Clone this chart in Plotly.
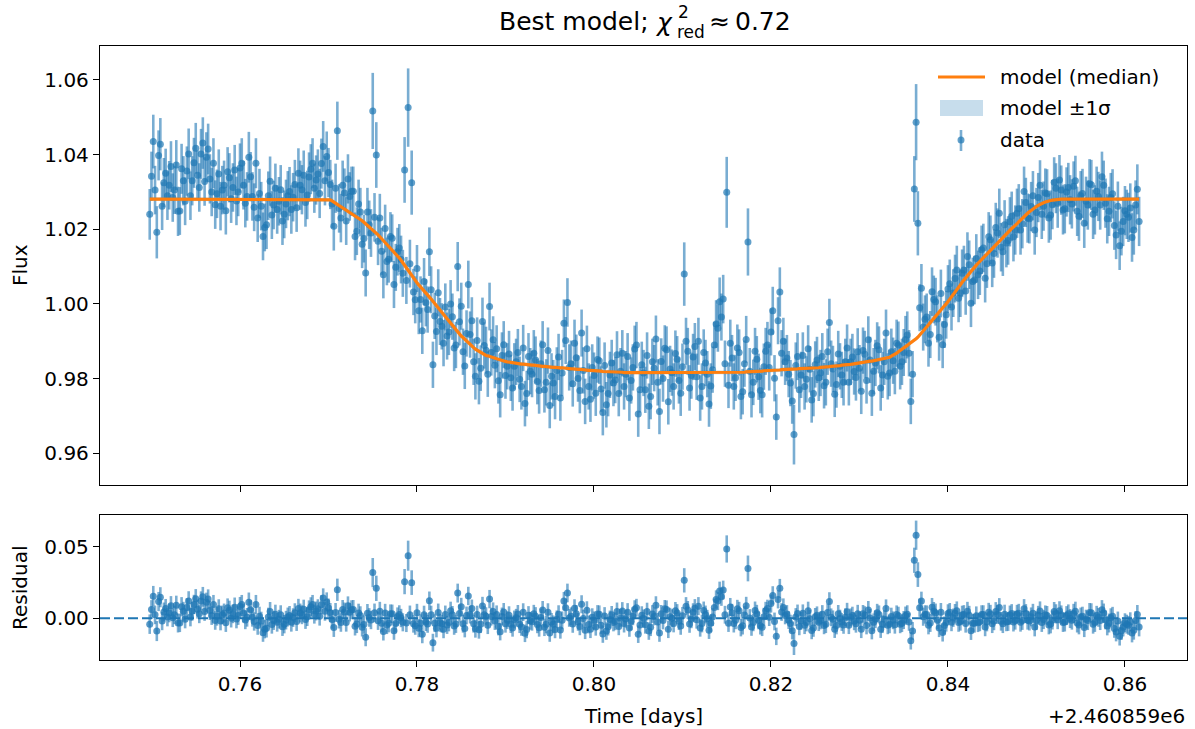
import plotly.graph_objects as go

# ---------------- data (time offset from 2460859 d) ----------------
# cadence set A
time_offset = [
0.7498,0.7502,0.7506,0.7510,0.7514,0.7518,0.7522,0.7526,0.7530,0.7534,
0.7538,0.7542,0.7546,0.7550,0.7554,0.7558,0.7562,0.7566,0.7570,0.7574,
0.7578,0.7582,0.7586,0.7590,0.7594,0.7598,0.7602,0.7606,0.7610,0.7614,
0.7618,0.7622,0.7626,0.7630,0.7634,0.7638,0.7642,0.7646,0.7650,0.7654,
0.7658,0.7662,0.7666,0.7670,0.7674,0.7678,0.7682,0.7686,0.7690,0.7694,
0.7698,0.7702,0.7706,0.7710,0.7714,0.7718,0.7722,0.7726,0.7730,0.7734,
0.7738,0.7742,0.7746,0.7750,0.7754,0.7758,0.7762,0.7766,0.7770,0.7774,
0.7778,0.7782,0.7786,0.7790,0.7794,0.7798,0.7802,0.7806,0.7810,0.7814,
0.7818,0.7822,0.7826,0.7830,0.7834,0.7838,0.7842,0.7846,0.7850,0.7854,
0.7858,0.7862,0.7866,0.7870,0.7874,0.7878,0.7882,0.7886,0.7890,0.7894,
0.7898,0.7902,0.7906,0.7910,0.7914,0.7918,0.7922,0.7926,0.7930,0.7934,
0.7938,0.7942,0.7946,0.7950,0.7954,0.7958,0.7962,0.7966,0.7970,0.7974,
0.7978,0.7982,0.7986,0.7990,0.7994,0.7998,0.8002,0.8006,0.8010,0.8014,
0.8018,0.8022,0.8026,0.8030,0.8034,0.8038,0.8042,0.8046,0.8050,0.8054,
0.8058,0.8062,0.8066,0.8070,0.8074,0.8078,0.8082,0.8086,0.8090,0.8094,
0.8098,0.8102,0.8106,0.8110,0.8114,0.8118,0.8122,0.8126,0.8130,0.8134,
0.8138,0.8142,0.8146,0.8150,0.8154,0.8158,0.8162,0.8166,0.8170,0.8174,
0.8178,0.8182,0.8186,0.8190,0.8194,0.8198,0.8202,0.8206,0.8210,0.8214,
0.8218,0.8222,0.8226,0.8230,0.8234,0.8238,0.8242,0.8246,0.8250,0.8254,
0.8258,0.8262,0.8266,0.8270,0.8274,0.8278,0.8282,0.8286,0.8290,0.8294,
0.8298,0.8302,0.8306,0.8310,0.8314,0.8318,0.8322,0.8326,0.8330,0.8334,
0.8338,0.8342,0.8346,0.8350,0.8354,0.8358,0.8362,0.8364,0.8366,0.8370,
0.8374,0.8378,0.8382,0.8386,0.8390,0.8394,0.8398,0.8402,0.8406,0.8410,
0.8414,0.8418,0.8422,0.8426,0.8430,0.8434,0.8438,0.8442,0.8446,0.8450,
0.8454,0.8458,0.8462,0.8466,0.8470,0.8474,0.8478,0.8482,0.8486,0.8490,
0.8494,0.8498,0.8502,0.8506,0.8510,0.8514,0.8518,0.8522,0.8526,0.8530,
0.8534,0.8538,0.8542,0.8546,0.8550,0.8554,0.8558,0.8562,0.8566,0.8570,
0.8574,0.8578,0.8582,0.8586,0.8590,0.8594,0.8598,0.8602,0.8606,0.8610,
0.8614,0.8616]

flux = [
1.0240,1.0435,1.0192,1.0428,1.0325,1.0290,1.0368,1.0305,1.0248,1.0362,
1.0275,1.0402,1.0330,1.0417,1.0312,1.0431,1.0393,1.0335,1.0377,1.0295,
1.0262,1.0318,1.0354,1.0282,1.0359,1.0300,1.0377,1.0270,1.0393,1.0288,
1.0377,1.0296,1.0181,1.0212,1.0329,1.0265,1.0253,1.0306,1.0240,1.0290,
1.0253,1.0320,1.0350,1.0306,1.0272,1.0340,1.0377,1.0332,1.0296,1.0422,
1.0395,1.0320,1.0208,1.0464,1.0230,1.0297,1.0335,1.0302,1.0181,1.0268,
1.0160,1.0083,1.0212,1.0517,1.0399,1.0230,1.0078,1.0114,1.0181,1.0052,
1.0140,1.0119,1.0359,1.0526,1.0325,1.0011,0.9982,0.9928,1.0003,1.0140,
0.9837,0.9926,0.9953,0.9895,0.9914,1.0000,0.9882,1.0100,0.9994,0.9834,
1.0052,0.9955,0.9806,0.9793,0.9953,0.9876,0.9993,0.9904,0.9880,0.9757,
0.9891,0.9833,0.9802,0.9833,0.9870,0.9779,0.9733,0.9859,0.9812,0.9850,
0.9768,0.9891,0.9790,0.9728,0.9788,0.9822,0.9748,0.9948,1.0004,0.9840,
0.9895,0.9800,0.9922,0.9739,0.9779,0.9830,0.9761,0.9848,0.9709,0.9730,
0.9810,0.9788,0.9864,0.9820,0.9779,0.9859,0.9795,0.9879,0.9705,0.9837,
0.9770,0.9726,0.9845,0.9906,0.9712,0.9800,0.9877,0.9826,0.9779,0.9852,
0.9761,1.0080,0.9873,0.9808,0.9886,0.9900,0.9779,0.9842,0.9732,0.9824,
0.9946,1.0006,1.0013,1.0299,0.9895,0.9779,0.9882,0.9752,0.9840,1.0166,
0.9757,0.9873,0.9805,0.9757,0.9873,0.9830,0.9982,0.9697,1.0032,0.9900,
0.9855,0.9788,0.9650,0.9859,0.9810,0.9779,0.9880,0.9743,0.9838,0.9802,
0.9859,0.9790,0.9950,0.9826,0.9784,0.9833,0.9790,0.9882,0.9845,0.9819,
0.9872,0.9766,0.9865,0.9904,0.9761,0.9842,0.9877,0.9810,0.9922,0.9815,
0.9848,0.9895,0.9833,0.9870,0.9917,0.9739,1.0308,1.0487,1.0216,1.0042,
0.9959,0.9895,1.0033,1.0006,0.9911,0.9891,0.9971,1.0054,1.0029,1.0091,
1.0029,1.0091,1.0127,1.0002,1.0064,1.0078,1.0145,1.0069,1.0180,1.0110,
1.0205,1.0243,1.0140,1.0163,1.0220,1.0180,1.0243,1.0198,1.0301,1.0230,
1.0261,1.0198,1.0285,1.0240,1.0297,1.0230,1.0266,1.0310,1.0332,1.0252,
1.0300,1.0279,1.0315,1.0248,1.0290,1.0216,1.0265,1.0319,1.0252,1.0288,
1.0341,1.0270,1.0248,1.0295,1.0185,1.0156,1.0221,1.0240,1.0257,1.0198,
1.0307,1.0221]

flux_err = [
0.0068,0.0072,0.0070,0.0070,0.0066,0.0065,0.0068,0.0064,0.0066,0.0067,
0.0064,0.0068,0.0066,0.0068,0.0065,0.0069,0.0067,0.0066,0.0067,0.0065,
0.0065,0.0066,0.0066,0.0065,0.0067,0.0065,0.0067,0.0065,0.0068,0.0065,
0.0067,0.0066,0.0064,0.0065,0.0066,0.0065,0.0065,0.0066,0.0064,0.0066,
0.0065,0.0066,0.0067,0.0066,0.0065,0.0066,0.0067,0.0066,0.0066,0.0068,
0.0067,0.0066,0.0065,0.0078,0.0065,0.0066,0.0066,0.0066,0.0064,0.0065,
0.0064,0.0063,0.0065,0.0102,0.0088,0.0065,0.0063,0.0064,0.0065,0.0063,
0.0064,0.0064,0.0088,0.0105,0.0086,0.0063,0.0063,0.0062,0.0063,0.0065,
0.0062,0.0063,0.0063,0.0062,0.0063,0.0064,0.0062,0.0066,0.0063,0.0062,
0.0064,0.0063,0.0062,0.0062,0.0064,0.0063,0.0064,0.0063,0.0063,0.0061,
0.0063,0.0062,0.0062,0.0062,0.0063,0.0062,0.0061,0.0063,0.0062,0.0063,
0.0062,0.0063,0.0062,0.0061,0.0062,0.0062,0.0061,0.0064,0.0065,0.0062,
0.0063,0.0062,0.0063,0.0061,0.0062,0.0062,0.0061,0.0062,0.0061,0.0061,
0.0062,0.0062,0.0063,0.0062,0.0062,0.0063,0.0062,0.0063,0.0061,0.0062,
0.0062,0.0061,0.0062,0.0063,0.0061,0.0062,0.0063,0.0062,0.0062,0.0062,
0.0061,0.0085,0.0063,0.0062,0.0063,0.0063,0.0062,0.0062,0.0061,0.0062,
0.0064,0.0065,0.0065,0.0095,0.0063,0.0062,0.0063,0.0061,0.0062,0.0090,
0.0061,0.0063,0.0062,0.0061,0.0063,0.0062,0.0064,0.0061,0.0066,0.0063,
0.0062,0.0062,0.0080,0.0063,0.0062,0.0062,0.0063,0.0061,0.0062,0.0062,
0.0063,0.0062,0.0064,0.0062,0.0062,0.0062,0.0062,0.0063,0.0062,0.0062,
0.0063,0.0061,0.0063,0.0063,0.0061,0.0062,0.0063,0.0062,0.0063,0.0062,
0.0062,0.0063,0.0062,0.0063,0.0063,0.0061,0.0088,0.0102,0.0086,0.0065,
0.0064,0.0063,0.0065,0.0064,0.0063,0.0063,0.0064,0.0065,0.0064,0.0065,
0.0064,0.0065,0.0065,0.0064,0.0065,0.0065,0.0065,0.0065,0.0066,0.0065,
0.0066,0.0066,0.0065,0.0065,0.0066,0.0066,0.0066,0.0066,0.0067,0.0066,
0.0066,0.0066,0.0066,0.0066,0.0066,0.0066,0.0066,0.0067,0.0067,0.0066,
0.0066,0.0066,0.0067,0.0066,0.0066,0.0066,0.0066,0.0067,0.0066,0.0066,
0.0067,0.0066,0.0066,0.0066,0.0065,0.0065,0.0066,0.0066,0.0066,0.0066,
0.0067,0.0066]

model_median = [
1.0281,1.0281,1.0281,1.0281,1.0281,1.0281,1.0281,1.0281,1.0281,1.0281,
1.0281,1.0281,1.0281,1.0281,1.0281,1.0281,1.0281,1.0281,1.0281,1.0281,
1.0281,1.0281,1.0281,1.0281,1.0281,1.0281,1.0281,1.0281,1.0281,1.0281,
1.0281,1.0281,1.0281,1.0281,1.0281,1.0281,1.0281,1.0281,1.0281,1.0281,
1.0281,1.0281,1.0281,1.0281,1.0281,1.0281,1.0281,1.0281,1.0281,1.0281,
1.0281,1.0279,1.0273,1.0265,1.0259,1.0253,1.0248,1.0242,1.0237,1.0231,
1.0223,1.0215,1.0206,1.0198,1.0190,1.0180,1.0170,1.0160,1.0149,1.0139,
1.0128,1.0117,1.0103,1.0089,1.0076,1.0063,1.0051,1.0040,1.0029,1.0018,
1.0007,0.9996,0.9984,0.9972,0.9960,0.9948,0.9935,0.9924,0.9914,0.9905,
0.9896,0.9887,0.9879,0.9873,0.9867,0.9862,0.9859,0.9856,0.9853,0.9850,
0.9847,0.9845,0.9843,0.9841,0.9840,0.9839,0.9838,0.9837,0.9836,0.9835,
0.9834,0.9833,0.9832,0.9831,0.9830,0.9829,0.9829,0.9828,0.9827,0.9826,
0.9825,0.9825,0.9824,0.9823,0.9822,0.9822,0.9821,0.9820,0.9819,0.9819,
0.9818,0.9817,0.9817,0.9817,0.9816,0.9816,0.9816,0.9816,0.9816,0.9815,
0.9815,0.9815,0.9815,0.9815,0.9815,0.9815,0.9815,0.9815,0.9815,0.9815,
0.9815,0.9815,0.9815,0.9815,0.9815,0.9815,0.9815,0.9815,0.9815,0.9815,
0.9815,0.9815,0.9815,0.9815,0.9816,0.9816,0.9816,0.9817,0.9817,0.9818,
0.9818,0.9819,0.9820,0.9820,0.9821,0.9822,0.9822,0.9823,0.9823,0.9824,
0.9825,0.9825,0.9826,0.9826,0.9827,0.9827,0.9827,0.9828,0.9828,0.9829,
0.9830,0.9831,0.9832,0.9833,0.9834,0.9835,0.9836,0.9837,0.9838,0.9840,
0.9841,0.9843,0.9844,0.9846,0.9847,0.9849,0.9850,0.9851,0.9853,0.9857,
0.9862,0.9868,0.9875,0.9882,0.9889,0.9896,0.9903,0.9907,0.9911,0.9921,
0.9932,0.9944,0.9956,0.9967,0.9979,0.9990,1.0000,1.0012,1.0025,1.0038,
1.0051,1.0064,1.0077,1.0089,1.0099,1.0109,1.0119,1.0129,1.0138,1.0148,
1.0158,1.0168,1.0178,1.0188,1.0197,1.0206,1.0215,1.0225,1.0234,1.0243,
1.0251,1.0258,1.0264,1.0269,1.0273,1.0276,1.0278,1.0279,1.0280,1.0281,
1.0281,1.0281,1.0281,1.0281,1.0281,1.0281,1.0281,1.0281,1.0281,1.0281,
1.0281,1.0281,1.0281,1.0281,1.0281,1.0281,1.0281,1.0281,1.0281,1.0281,
1.0281,1.0281]

# cadence set B (interleaved exposures)
time_offset_b = [
0.7500,0.7504,0.7508,0.7512,0.7516,0.7520,0.7524,0.7528,0.7532,0.7536,
0.7540,0.7544,0.7548,0.7552,0.7556,0.7560,0.7564,0.7568,0.7572,0.7576,
0.7580,0.7584,0.7588,0.7592,0.7596,0.7600,0.7604,0.7608,0.7612,0.7616,
0.7620,0.7624,0.7628,0.7632,0.7636,0.7640,0.7644,0.7648,0.7652,0.7656,
0.7660,0.7664,0.7668,0.7672,0.7676,0.7680,0.7684,0.7688,0.7692,0.7696,
0.7700,0.7704,0.7708,0.7712,0.7716,0.7720,0.7724,0.7728,0.7732,0.7736,
0.7740,0.7744,0.7748,0.7752,0.7756,0.7760,0.7764,0.7768,0.7772,0.7776,
0.7780,0.7784,0.7788,0.7792,0.7796,0.7800,0.7804,0.7808,0.7812,0.7816,
0.7820,0.7824,0.7828,0.7832,0.7836,0.7840,0.7844,0.7848,0.7852,0.7856,
0.7860,0.7864,0.7868,0.7872,0.7876,0.7880,0.7884,0.7888,0.7892,0.7896,
0.7900,0.7904,0.7908,0.7912,0.7916,0.7920,0.7924,0.7928,0.7932,0.7936,
0.7940,0.7944,0.7948,0.7952,0.7956,0.7960,0.7964,0.7968,0.7972,0.7976,
0.7980,0.7984,0.7988,0.7992,0.7996,0.8000,0.8004,0.8008,0.8012,0.8016,
0.8020,0.8024,0.8028,0.8032,0.8036,0.8040,0.8044,0.8048,0.8052,0.8056,
0.8060,0.8064,0.8068,0.8072,0.8076,0.8080,0.8084,0.8088,0.8092,0.8096,
0.8100,0.8104,0.8108,0.8112,0.8116,0.8120,0.8124,0.8128,0.8132,0.8136,
0.8140,0.8144,0.8148,0.8152,0.8156,0.8160,0.8164,0.8168,0.8172,0.8176,
0.8180,0.8184,0.8188,0.8192,0.8196,0.8200,0.8204,0.8208,0.8212,0.8216,
0.8220,0.8224,0.8228,0.8232,0.8236,0.8240,0.8244,0.8248,0.8252,0.8256,
0.8260,0.8264,0.8268,0.8272,0.8276,0.8280,0.8284,0.8288,0.8292,0.8296,
0.8300,0.8304,0.8308,0.8312,0.8316,0.8320,0.8324,0.8328,0.8332,0.8336,
0.8340,0.8344,0.8348,0.8352,0.8356,0.8360,
0.8368,0.8372,0.8376,
0.8380,0.8384,0.8388,0.8392,0.8396,0.8400,0.8404,0.8408,0.8412,0.8416,
0.8420,0.8424,0.8428,0.8432,0.8436,0.8440,0.8444,0.8448,0.8452,0.8456,
0.8460,0.8464,0.8468,0.8472,0.8476,0.8480,0.8484,0.8488,0.8492,0.8496,
0.8500,0.8504,0.8508,0.8512,0.8516,0.8520,0.8524,0.8528,0.8532,0.8536,
0.8540,0.8544,0.8548,0.8552,0.8556,0.8560,0.8564,0.8568,0.8572,0.8576,
0.8580,0.8584,0.8588,0.8592,0.8596,0.8600,0.8604,0.8608,0.8612]

flux_b = [
1.0342,1.0305,1.0398,1.0262,1.0350,1.0318,1.0285,1.0372,1.0249,1.0330,
1.0356,1.0290,1.0378,1.0345,1.0402,1.0328,1.0415,1.0300,1.0266,1.0348,
1.0305,1.0250,1.0338,1.0312,1.0276,1.0364,1.0318,1.0288,1.0341,1.0259,
1.0230,1.0262,1.0205,1.0290,1.0238,1.0310,1.0275,1.0222,1.0268,1.0301,
1.0286,1.0258,1.0318,1.0345,1.0292,1.0361,1.0310,1.0348,1.0376,1.0330,
1.0352,1.0268,1.0310,1.0256,1.0318,1.0222,1.0288,1.0302,1.0195,1.0246,
1.0175,1.0246,1.0190,1.0232,1.0168,1.0141,1.0202,1.0120,1.0176,1.0098,
1.0150,1.0082,1.0063,1.0108,1.0032,1.0095,1.0012,1.0060,0.9985,1.0038,
0.9968,1.0030,0.9940,0.9992,0.9925,0.9966,0.9890,0.9952,0.9872,0.9921,
0.9918,0.9845,0.9902,0.9828,0.9889,0.9812,0.9870,0.9836,0.9794,0.9862,
0.9808,0.9866,0.9775,0.9845,0.9798,0.9882,0.9760,0.9820,0.9868,0.9792,
0.9840,0.9770,0.9875,0.9806,0.9752,0.9858,0.9815,0.9902,0.9830,0.9786,
0.9856,0.9768,0.9822,0.9880,0.9745,0.9808,0.9851,0.9772,0.9835,0.9760,
0.9842,0.9796,0.9760,0.9868,0.9812,0.9748,0.9830,0.9890,0.9770,0.9815,
0.9862,0.9752,0.9828,0.9790,0.9846,0.9881,0.9738,0.9816,0.9867,0.9795,
0.9832,0.9900,0.9775,0.9858,0.9805,0.9748,0.9870,0.9812,0.9780,0.9890,
0.9935,0.9965,0.9840,0.9782,0.9855,0.9802,0.9870,0.9765,0.9905,0.9820,
0.9790,0.9852,0.9768,0.9832,0.9890,0.9925,0.9801,0.9955,0.9868,0.9845,
0.9812,0.9740,0.9835,0.9770,0.9862,0.9798,0.9825,0.9760,0.9850,0.9815,
0.9781,0.9872,0.9840,0.9758,0.9866,0.9810,0.9845,0.9790,0.9858,0.9803,
0.9828,0.9875,0.9795,0.9850,0.9820,0.9888,0.9775,0.9845,0.9806,0.9872,
0.9820,0.9890,0.9845,0.9905,0.9868,0.9812,
0.9990,0.9938,0.9965,
0.9918,1.0012,0.9960,1.0028,0.9945,1.0040,0.9992,1.0068,1.0015,1.0082,
1.0035,1.0105,1.0060,1.0122,1.0088,1.0150,1.0108,1.0172,1.0135,1.0190,
1.0152,1.0212,1.0170,1.0235,1.0198,1.0255,1.0215,1.0272,1.0228,1.0290,
1.0245,1.0318,1.0262,1.0295,1.0238,1.0326,1.0270,1.0305,1.0255,1.0312,
1.0268,1.0330,1.0235,1.0296,1.0275,1.0322,1.0240,1.0302,1.0265,1.0318,
1.0228,1.0285,1.0210,1.0262,1.0195,1.0250,1.0232,1.0178,1.0265]

flux_err_b = [
0.0066,0.0065,0.0067,0.0064,0.0066,0.0065,0.0065,0.0067,0.0064,0.0066,
0.0066,0.0065,0.0067,0.0066,0.0067,0.0065,0.0068,0.0065,0.0065,0.0066,
0.0065,0.0064,0.0066,0.0065,0.0065,0.0066,0.0065,0.0065,0.0066,0.0064,
0.0064,0.0065,0.0064,0.0065,0.0064,0.0066,0.0065,0.0064,0.0065,0.0066,
0.0065,0.0065,0.0066,0.0066,0.0065,0.0067,0.0066,0.0066,0.0067,0.0066,
0.0066,0.0065,0.0066,0.0065,0.0066,0.0064,0.0065,0.0066,0.0064,0.0065,
0.0064,0.0065,0.0064,0.0065,0.0064,0.0063,0.0064,0.0063,0.0064,0.0063,
0.0064,0.0063,0.0063,0.0064,0.0062,0.0063,0.0062,0.0063,0.0062,0.0063,
0.0062,0.0063,0.0062,0.0063,0.0062,0.0062,0.0062,0.0063,0.0062,0.0062,
0.0062,0.0062,0.0062,0.0061,0.0062,0.0061,0.0062,0.0062,0.0061,0.0062,
0.0062,0.0062,0.0061,0.0062,0.0061,0.0062,0.0061,0.0062,0.0062,0.0061,
0.0062,0.0061,0.0062,0.0062,0.0061,0.0062,0.0062,0.0063,0.0062,0.0061,
0.0062,0.0061,0.0062,0.0062,0.0061,0.0062,0.0062,0.0061,0.0062,0.0061,
0.0062,0.0062,0.0061,0.0062,0.0062,0.0061,0.0062,0.0062,0.0061,0.0062,
0.0062,0.0061,0.0062,0.0062,0.0062,0.0062,0.0061,0.0062,0.0062,0.0062,
0.0062,0.0063,0.0061,0.0062,0.0062,0.0061,0.0062,0.0062,0.0061,0.0062,
0.0063,0.0063,0.0062,0.0061,0.0062,0.0062,0.0062,0.0061,0.0063,0.0062,
0.0061,0.0062,0.0061,0.0062,0.0062,0.0063,0.0062,0.0063,0.0062,0.0062,
0.0062,0.0061,0.0062,0.0061,0.0062,0.0062,0.0062,0.0061,0.0062,0.0062,
0.0061,0.0062,0.0062,0.0061,0.0062,0.0062,0.0062,0.0062,0.0062,0.0062,
0.0062,0.0062,0.0062,0.0062,0.0062,0.0063,0.0061,0.0062,0.0062,0.0062,
0.0062,0.0063,0.0062,0.0063,0.0062,0.0062,
0.0063,0.0063,0.0063,
0.0063,0.0064,0.0063,0.0064,0.0063,0.0064,0.0063,0.0064,0.0064,0.0064,
0.0064,0.0065,0.0064,0.0065,0.0064,0.0065,0.0065,0.0065,0.0065,0.0066,
0.0065,0.0066,0.0065,0.0066,0.0066,0.0066,0.0066,0.0066,0.0066,0.0066,
0.0066,0.0067,0.0066,0.0066,0.0066,0.0067,0.0066,0.0066,0.0066,0.0066,
0.0066,0.0067,0.0066,0.0066,0.0066,0.0066,0.0066,0.0066,0.0066,0.0066,
0.0066,0.0066,0.0065,0.0066,0.0065,0.0066,0.0066,0.0065,0.0066]

model_median_b = [
1.0281,1.0281,1.0281,1.0281,1.0281,1.0281,1.0281,1.0281,1.0281,1.0281,
1.0281,1.0281,1.0281,1.0281,1.0281,1.0281,1.0281,1.0281,1.0281,1.0281,
1.0281,1.0281,1.0281,1.0281,1.0281,1.0281,1.0281,1.0281,1.0281,1.0281,
1.0281,1.0281,1.0281,1.0281,1.0281,1.0281,1.0281,1.0281,1.0281,1.0281,
1.0281,1.0281,1.0281,1.0281,1.0281,1.0281,1.0281,1.0281,1.0281,1.0281,
1.0280,1.0276,1.0269,1.0262,1.0256,1.0251,1.0245,1.0240,1.0234,1.0227,
1.0219,1.0211,1.0202,1.0194,1.0185,1.0175,1.0165,1.0155,1.0144,1.0134,
1.0123,1.0110,1.0096,1.0083,1.0070,1.0057,1.0046,1.0035,1.0024,1.0013,
1.0002,0.9990,0.9978,0.9966,0.9954,0.9942,0.9930,0.9919,0.9910,0.9901,
0.9892,0.9883,0.9876,0.9870,0.9865,0.9861,0.9858,0.9855,0.9852,0.9849,
0.9846,0.9844,0.9842,0.9841,0.9840,0.9839,0.9838,0.9837,0.9836,0.9835,
0.9834,0.9833,0.9832,0.9831,0.9830,0.9829,0.9829,0.9828,0.9827,0.9826,
0.9825,0.9825,0.9824,0.9823,0.9822,0.9822,0.9821,0.9820,0.9819,0.9819,
0.9818,0.9817,0.9817,0.9817,0.9816,0.9816,0.9816,0.9816,0.9816,0.9815,
0.9815,0.9815,0.9815,0.9815,0.9815,0.9815,0.9815,0.9815,0.9815,0.9815,
0.9815,0.9815,0.9815,0.9815,0.9815,0.9815,0.9815,0.9815,0.9815,0.9815,
0.9815,0.9815,0.9815,0.9816,0.9816,0.9816,0.9817,0.9817,0.9818,0.9818,
0.9819,0.9820,0.9820,0.9821,0.9822,0.9822,0.9823,0.9823,0.9824,0.9825,
0.9825,0.9826,0.9826,0.9827,0.9827,0.9827,0.9828,0.9828,0.9829,0.9830,
0.9831,0.9832,0.9833,0.9834,0.9835,0.9836,0.9837,0.9838,0.9839,0.9841,
0.9842,0.9844,0.9845,0.9847,0.9848,0.9850,0.9851,0.9852,0.9855,0.9860,
0.9865,0.9872,0.9879,0.9886,0.9893,0.9900,
0.9916,0.9927,0.9938,
0.9950,0.9962,0.9973,0.9985,0.9995,1.0006,1.0019,1.0032,1.0045,1.0058,
1.0071,1.0083,1.0094,1.0104,1.0114,1.0124,1.0134,1.0143,1.0153,1.0163,
1.0173,1.0183,1.0193,1.0202,1.0211,1.0220,1.0230,1.0239,1.0247,1.0255,
1.0261,1.0267,1.0271,1.0275,1.0277,1.0279,1.0280,1.0281,1.0281,1.0281,
1.0281,1.0281,1.0281,1.0281,1.0281,1.0281,1.0281,1.0281,1.0281,1.0281,
1.0281,1.0281,1.0281,1.0281,1.0281,1.0281,1.0281,1.0281,1.0281]

model_sigma = 0.0005          # half width of the +-1 sigma model band
time_zero_label = "+2.460859e6"
x_ticks = [0.76, 0.78, 0.80, 0.82, 0.84, 0.86]
flux_ticks = [0.96, 0.98, 1.00, 1.02, 1.04, 1.06]
resid_ticks = [0.00, 0.05]
legend_labels = ["model (median)", "model ±1σ", "data"]

assert len(flux) == len(time_offset) == len(flux_err) == len(model_median)
assert len(flux_b) == len(time_offset_b) == len(flux_err_b) == len(model_median_b)

rows = sorted(zip(time_offset + time_offset_b, flux + flux_b,
                  flux_err + flux_err_b, model_median + model_median_b))
t_all = [r[0] for r in rows]
f_all = [r[1] for r in rows]
e_all = [r[2] for r in rows]
m_all = [r[3] for r in rows]
residual = [f - m for f, m in zip(f_all, m_all)]
band_lo = [m - model_sigma for m in m_all]
band_hi = [m + model_sigma for m in m_all]

# ---------------- styling ----------------
C0 = "#1f77b4"
C1 = "#ff7f0e"
PT_COL = "rgba(31,119,180,0.7)"
BAR_COL = "rgba(31,119,180,0.6)"
BAND_COL = "rgba(31,119,180,0.25)"
FONT = "DejaVu Sans"
W, H = 1195, 729
ML, MR, MT, MB = 100, 8, 46, 69
PH = H - MT - MB
PW = W - ML - MR

def py(px):  # pixel row -> paper y
    return (H - MB - px) / PH

def pxx(px):  # pixel col -> paper x
    return (px - ML) / PW

fig = go.Figure()

fig.add_trace(go.Scatter(x=t_all, y=band_lo, mode="lines", line=dict(width=0),
                         showlegend=False, hoverinfo="skip", xaxis="x", yaxis="y"))
fig.add_trace(go.Scatter(x=t_all, y=band_hi, mode="lines", line=dict(width=0),
                         fill="tonexty", fillcolor=BAND_COL, showlegend=False,
                         name=legend_labels[1], xaxis="x", yaxis="y"))
fig.add_trace(go.Scatter(x=t_all, y=f_all, mode="markers", name=legend_labels[2], showlegend=False,
                         marker=dict(size=7, color=PT_COL, line=dict(width=0)),
                         error_y=dict(type="data", array=e_all, color=BAR_COL,
                                      thickness=2.6, width=0),
                         xaxis="x", yaxis="y"))
fig.add_trace(go.Scatter(x=t_all, y=m_all, mode="lines", name=legend_labels[0], showlegend=False,
                         line=dict(color=C1, width=3.2), xaxis="x", yaxis="y"))
fig.add_trace(go.Scatter(x=t_all, y=residual, mode="markers", showlegend=False,
                         marker=dict(size=7, color="rgba(31,119,180,0.75)", line=dict(width=0)),
                         error_y=dict(type="data", array=e_all, color=BAR_COL,
                                      thickness=2.6, width=0),
                         xaxis="x2", yaxis="y2"))

axis_common = dict(showline=True, mirror=True, linecolor="black", linewidth=1.3,
                   ticks="outside", ticklen=6, tickwidth=1.3, tickcolor="black",
                   showgrid=False, zeroline=False, automargin=False,
                   tickfont=dict(family=FONT, size=20, color="black"))

xr = [0.74418, 0.86701]
fig.update_layout(
    width=W, height=H,
    margin=dict(l=ML, r=MR, t=MT, b=MB),
    paper_bgcolor="white", plot_bgcolor="white",
    font=dict(family=FONT, size=20, color="black"),
    showlegend=False,
    xaxis=dict(domain=[0, 1], anchor="y", range=xr, tickvals=x_ticks,
               showticklabels=False, **axis_common),
    yaxis=dict(domain=[py(485), 1], anchor="x", range=[0.9515, 1.0691],
               tickvals=flux_ticks, tickformat=".2f", **axis_common),
    xaxis2=dict(domain=[0, 1], anchor="y2", range=xr, matches="x", tickvals=x_ticks,
                tickformat=".2f", **axis_common),
    yaxis2=dict(domain=[0, py(515)], anchor="x2", range=[-0.0291, 0.0721],
                tickvals=resid_ticks, tickformat=".2f", **axis_common),
)

fig.add_shape(type="line", xref="x2 domain", yref="y2", x0=0, x1=1, y0=0, y1=0,
              line=dict(color=C0, width=2, dash="10px,4px"), layer="below")

# ---- legend (matplotlib style: line, filled patch, errorbar marker) ----
def pshape(**kw):
    fig.add_shape(xref="paper", yref="paper", **kw)

pshape(type="line", x0=pxx(938), x1=pxx(985), y0=py(77), y1=py(77),
       line=dict(color=C1, width=3.2))
pshape(type="rect", x0=pxx(940), x1=pxx(983), y0=py(100), y1=py(116),
       line=dict(width=0), fillcolor=BAND_COL)
pshape(type="line", x0=pxx(961), x1=pxx(961), y0=py(130), y1=py(151),
       line=dict(color=BAR_COL, width=2.6))
pshape(type="circle", x0=pxx(957.5), x1=pxx(964.5), y0=py(136.5), y1=py(143.5),
       line=dict(width=0), fillcolor=PT_COL)

ann = [
    dict(text=legend_labels[0], x=pxx(998), y=py(77), xanchor="left"),
    dict(text=legend_labels[1], x=pxx(998), y=py(108), xanchor="left"),
    dict(text=legend_labels[2], x=pxx(998), y=py(140), xanchor="left"),
    # title pieces (mathtext-like stacked super/subscript)
    dict(text="Best model;", x=pxx(651), y=py(22), xanchor="right",
         font=dict(family=FONT, size=25, color="black")),
    dict(text="<i>χ</i>", x=pxx(653), y=py(23), xanchor="left",
         font=dict(family=FONT, size=25, color="black")),
    dict(text="red", x=pxx(675), y=py(32), xanchor="left",
         font=dict(family=FONT, size=17, color="black")),
    dict(text="2", x=pxx(676), y=py(12), xanchor="left",
         font=dict(family=FONT, size=17, color="black")),
    dict(text="≈", x=pxx(719), y=py(22),
         font=dict(family=FONT, size=25, color="black")),
    dict(text="0.72", x=pxx(793), y=py(22), xanchor="right",
         font=dict(family=FONT, size=25, color="black")),
    # axis labels
    dict(text="Flux", x=pxx(20), y=py(265), textangle=-90),
    dict(text="Residual", x=pxx(20), y=py(588), textangle=-90),
    dict(text="Time [days]", x=0.5, y=py(716)),
    dict(text=time_zero_label, x=1.0, y=py(716), xanchor="right"),
]
for a in ann:
    base = dict(xref="paper", yref="paper", showarrow=False, xanchor="center", yanchor="middle",
                font=dict(family=FONT, size=20, color="black"))
    base.update(a)
    fig.add_annotation(**base)

fig.write_html("out.html", config={"displayModeBar": False},
               post_script="document.body.style.margin='0';")
